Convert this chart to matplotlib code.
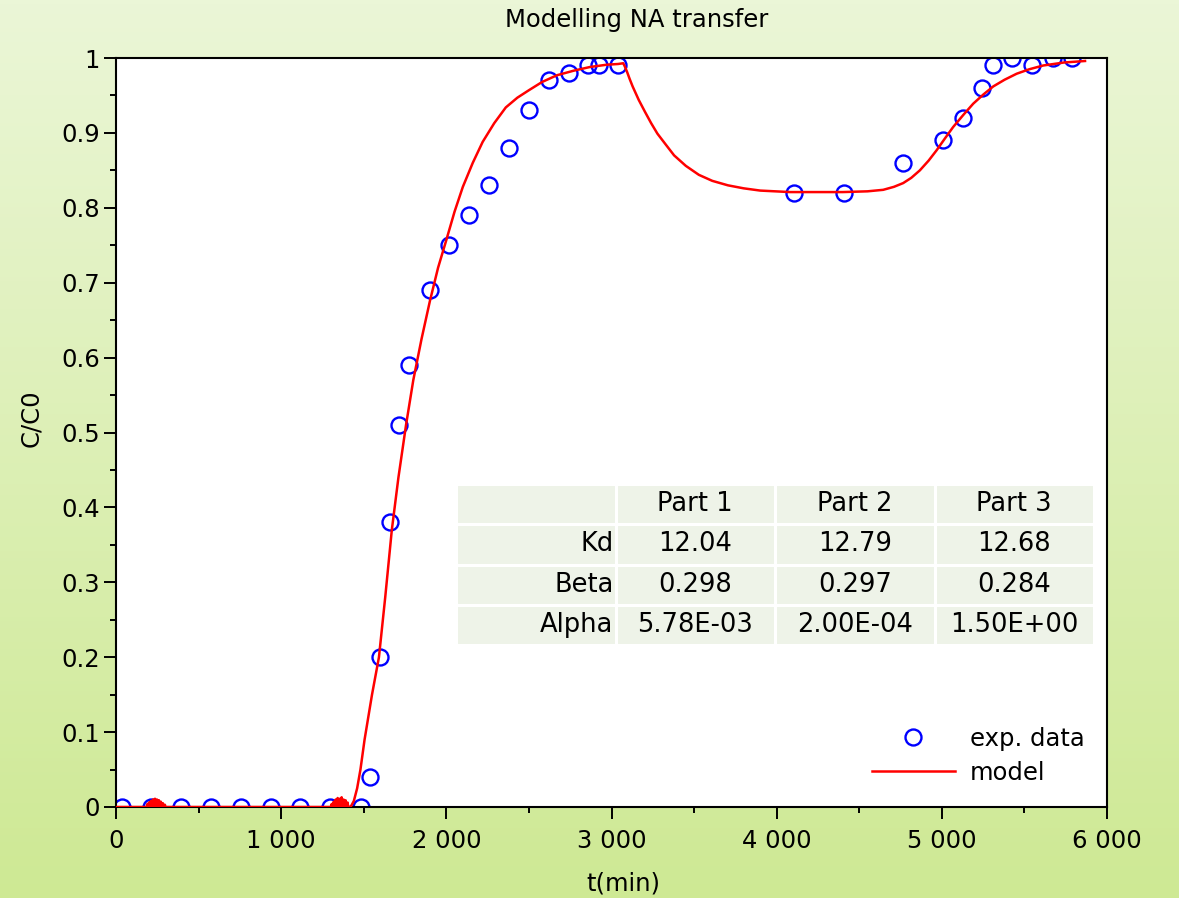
import matplotlib
matplotlib.use("Agg")
import matplotlib.pyplot as plt
import numpy as np
from matplotlib.ticker import MultipleLocator, FuncFormatter
from matplotlib.lines import Line2D

# experimental breakthrough data
exp_t = [36, 214, 396, 577, 759, 937, 1116, 1298, 1482, 1538, 1598, 1659, 1715,
         1776, 1901, 2018, 2139, 2260, 2381, 2502, 2623, 2741, 2860, 2922, 3041,
         4107, 4408, 4767, 5005, 5128, 5243, 5307, 5427, 5548, 5673, 5788]
exp_c = [0, 0, 0, 0, 0, 0, 0, 0, 0, 0.04, 0.20, 0.38, 0.51,
         0.59, 0.69, 0.75, 0.79, 0.83, 0.88, 0.93, 0.97, 0.98, 0.99, 0.99, 0.99,
         0.82, 0.82, 0.86, 0.89, 0.92, 0.96, 0.99, 1.00, 0.99, 1.00, 1.00]

# model curve (including the small numerical oscillations near zero)
model_t = [0, 185, 190, 194, 200, 204, 212, 216, 224, 228, 236, 240, 248, 252,
           260, 264, 272, 276, 284, 288, 296, 300, 310, 1300, 1306, 1310, 1318,
           1322, 1330, 1334, 1342, 1346, 1354, 1358, 1366, 1370, 1378, 1382,
           1390, 1394, 1402, 1406, 1412,
           1420, 1440, 1460, 1480, 1505, 1550, 1592, 1630, 1670, 1710, 1756, 1800,
           1850, 1900, 1950, 2000, 2050, 2100, 2160, 2220, 2290, 2360, 2430,
           2500, 2580, 2670, 2770, 2870, 2970, 3040, 3071, 3080, 3095, 3110, 3128,
           3165, 3203, 3240, 3278, 3330, 3379, 3450, 3529, 3610, 3705, 3800, 3900,
           4081, 4250, 4400, 4550, 4645, 4710, 4766, 4815, 4867, 4920, 4969,
           5020, 5069, 5130, 5190, 5250, 5311, 5380, 5453, 5530, 5614, 5740, 5867]
model_c = [0, 0, 0.004, 0, 0.006, 0, 0.008, 0, 0.010, 0, 0.011, 0, 0.010, 0,
           0.009, 0, 0.007, 0, 0.005, 0, 0.003, 0, 0, 0, 0.004, 0, 0.007,
           0, 0.010, 0, 0.012, 0, 0.011, 0, 0.013, 0, 0.010, 0,
           0.009, 0, 0.006, 0, 0,
           0.0, 0.008, 0.025, 0.05, 0.09, 0.15, 0.20, 0.28, 0.37, 0.44, 0.51, 0.57,
           0.625, 0.675, 0.72, 0.757, 0.795, 0.828, 0.860, 0.888, 0.913, 0.934, 0.947,
           0.957, 0.968, 0.977, 0.983, 0.988, 0.991, 0.992, 0.993, 0.989, 0.981, 0.972,
           0.962, 0.944, 0.928, 0.913, 0.899, 0.884, 0.870, 0.856, 0.844, 0.836, 0.830,
           0.826, 0.823, 0.821, 0.821, 0.821, 0.822, 0.824, 0.828, 0.833, 0.840, 0.850,
           0.863, 0.877, 0.893, 0.908, 0.924, 0.939, 0.951, 0.962, 0.971, 0.979, 0.985,
           0.990, 0.994, 0.996]

# fitted parameters
param_cols = ["", "Part 1", "Part 2", "Part 3"]
param_names = ["Kd", "Beta", "Alpha"]
kd_vals = ["12.04", "12.79", "12.68"]
beta_vals = ["0.298", "0.297", "0.284"]
alpha_vals = ["5.78E-03", "2.00E-04", "1.50E+00"]

FS = 17.5
plt.rcParams['font.family'] = ['DejaVu Sans']

W, H = 1179, 898
fig = plt.figure(figsize=(W / 100, H / 100), dpi=100)

# soft green vertical gradient behind everything
bg = fig.add_axes([0, 0, 1, 1], zorder=-10)
g = np.linspace(0, 1, 256)[:, None, None]
top = np.array([235, 246, 215]) / 255.0
bot = np.array([206, 233, 148]) / 255.0
bg.imshow(top + (bot - top) * g, aspect='auto', extent=[0, 1, 0, 1], origin='upper')
bg.axis('off')

ax = fig.add_axes([116 / W, 1 - 807 / H, (1107 - 116) / W, (807 - 58) / H])
ax.set_facecolor('white')

ax.plot(exp_t, exp_c, ls='none', marker='o', ms=11.5, mfc='none', mec='#0000ff',
        mew=1.7, zorder=2)
ax.plot(model_t, model_c, color='#ff0000', lw=1.8, zorder=3, solid_joinstyle='round')

ax.set_xlim(0, 6000)
ax.set_ylim(0, 1)
ax.xaxis.set_major_locator(MultipleLocator(1000))
ax.xaxis.set_minor_locator(MultipleLocator(500))
ax.yaxis.set_major_locator(MultipleLocator(0.1))
ax.yaxis.set_minor_locator(MultipleLocator(0.05))
ax.xaxis.set_major_formatter(FuncFormatter(lambda v, p: f"{int(round(v)):,}".replace(",", " ")))
ax.yaxis.set_major_formatter(FuncFormatter(lambda v, p: f"{round(v, 2):g}"))
ax.tick_params(which='major', direction='out', length=8.5, width=1.4, labelsize=FS,
               top=False, right=False)
ax.tick_params(axis='x', which='major', pad=7)
ax.tick_params(axis='y', which='major', pad=3)
ax.tick_params(which='minor', direction='out', length=4, width=1.4, top=False, right=False)
for s in ax.spines.values():
    s.set_linewidth(1.5)
    s.set_color('black')

# parameter table
cells = [param_cols,
         [param_names[0]] + kd_vals,
         [param_names[1]] + beta_vals,
         [param_names[2]] + alpha_vals]
x0 = (456 - 116) / (1107 - 116)
x1 = (1094 - 116) / (1107 - 116)
y0 = (807 - 645) / (807 - 58)
y1 = (807 - 484) / (807 - 58)
tbl = ax.table(cellText=cells, cellLoc='center', bbox=[x0, y0, x1 - x0, y1 - y0])
tbl.auto_set_font_size(False)
tbl.set_fontsize(18.5)
tbl.set_zorder(4)
for (r, c), cell in tbl.get_celld().items():
    cell.set_facecolor('#eef3e8')
    cell.set_edgecolor('white')
    cell.set_linewidth(2.2)
    if c == 0:
        cell._loc = 'right'
        cell.PAD = 0.012
        cell.get_text().set_ha('right')

# legend
handles = [Line2D([], [], ls='none', marker='o', ms=11.5, mfc='none', mec='#0000ff', mew=1.7),
           Line2D([], [], color='#ff0000', lw=1.8)]
ax.legend(handles, ["exp. data", "model"], loc='upper left',
          bbox_to_anchor=(872 / W, 1 - 727 / H), bbox_transform=fig.transFigure,
          frameon=False, borderpad=0, borderaxespad=0, handlelength=3.4,
          handletextpad=0.62, labelspacing=0.4, fontsize=FS)

fig.text(637 / W, 1 - 20 / H, "Modelling NA transfer", ha='center', va='center', fontsize=FS)
fig.text(623 / W, 1 - 883 / H, "t(min)", ha='center', va='center', fontsize=FS)
fig.text(31 / W, 1 - 418 / H, "C/C0", ha='center', va='center', rotation=90, fontsize=FS)

fig.savefig("out.png", dpi=100)
